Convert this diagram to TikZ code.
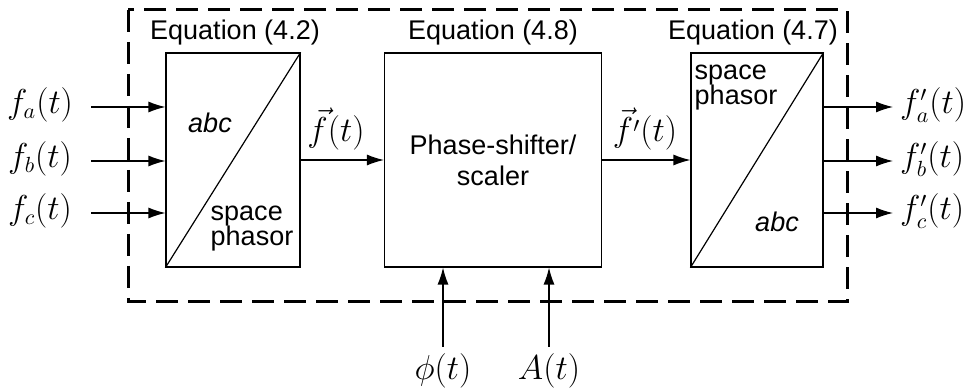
\documentclass[tikz,border=0pt]{standalone}
\usepackage{amsmath,amssymb}
\usepackage{fontspec}
\setmainfont{Liberation Sans}
\usepackage{tikz}
\usetikzlibrary{arrows.meta}

\begin{document}
\begin{tikzpicture}[
        x=0.5pt, y=-0.5pt,
        every node/.append style={font=\fontsize{13.5}{15.5}\selectfont}
    ]
    \tikzstyle{blk}=[draw,line width=0.6pt,rectangle,inner sep=0pt,minimum width=67pt,minimum height=107pt];
    \tikzstyle{arr}=[line width=0.6pt,-{Latex[length=8.5pt,width=5.5pt]}];
    \tikzstyle{sig}=[font=\fontsize{16}{18}\selectfont];
    \useasboundingbox (0,0) rectangle (963,389);
    % frame
    \draw[line width=1.5pt,dash pattern=on 11pt off 5pt] (128,10) rectangle (847,302);
    % abc -> space phasor
    \node[blk] (conv) at (233,160) {};
    \draw[line width=0.6pt] (conv.south west) -- (conv.north east);
    \node (eqconv) at (235,33) {Equation (4.2)};
    \node (abcin) at (210,123) {\itshape abc};
    \node[align=left] (spin) at (252,229) {space\\[-3pt]phasor};
    % phase-shifter
    \node[blk,minimum width=108.5pt,align=center] (shift) at (493,160) {Phase-shifter/\\scaler};
    \node (eqshift) at (493,33) {Equation (4.8)};
    % space phasor -> abc
    \node[blk,minimum width=66pt] (inv) at (757,160) {};
    \draw[line width=0.6pt] (inv.south west) -- (inv.north east);
    \node (eqinv) at (753,33) {Equation (4.7)};
    \node[align=left] (spout) at (736,88) {space\\[-3pt]phasor};
    \node (abcout) at (777,222) {\itshape abc};
    % inputs
    \node[sig] (fa) at (40,105) {$f_a(t)$};
    \node[sig] (fb) at (40,159) {$f_b(t)$};
    \node[sig] (fc) at (40,211) {$f_c(t)$};
    \coordinate (ia) at (91,107);
    \coordinate (ib) at (91,161);
    \coordinate (ic) at (91,213);
    \draw[arr] (ia) -- (conv.west |- ia);
    \draw[arr] (ib) -- (conv.west |- ib);
    \draw[arr] (ic) -- (conv.west |- ic);
    % space vectors
    \draw[arr] (conv.east) -- (shift.west);
    \node[sig,anchor=south,inner sep=1pt] (fvec) at (336,153) {$\vec{f}(t)$};
    \draw[arr] (shift.east) -- (inv.west);
    \node[sig,anchor=south,inner sep=1pt] (fpvec) at (645,153) {$\vec{f'}(t)$};
    % outputs
    \coordinate (oa) at (893,107);
    \coordinate (ob) at (893,161);
    \coordinate (oc) at (893,213);
    \draw[arr] (inv.east |- oa) -- (oa);
    \draw[arr] (inv.east |- ob) -- (ob);
    \draw[arr] (inv.east |- oc) -- (oc);
    \node[sig,anchor=west] (fpa) at (893,105) {$f'_a(t)$};
    \node[sig,anchor=west] (fpb) at (893,159) {$f'_b(t)$};
    \node[sig,anchor=west] (fpc) at (893,211) {$f'_c(t)$};
    % control inputs
    \coordinate (iphi) at (443,347);
    \coordinate (iamp) at (549,347);
    \draw[arr] (iphi) -- (shift.south -| iphi);
    \draw[arr] (iamp) -- (shift.south -| iamp);
    \node[sig] (phi) at (443,371) {$\phi(t)$};
    \node[sig] (amp) at (549,371) {$A(t)$};
\end{tikzpicture}
\end{document}
